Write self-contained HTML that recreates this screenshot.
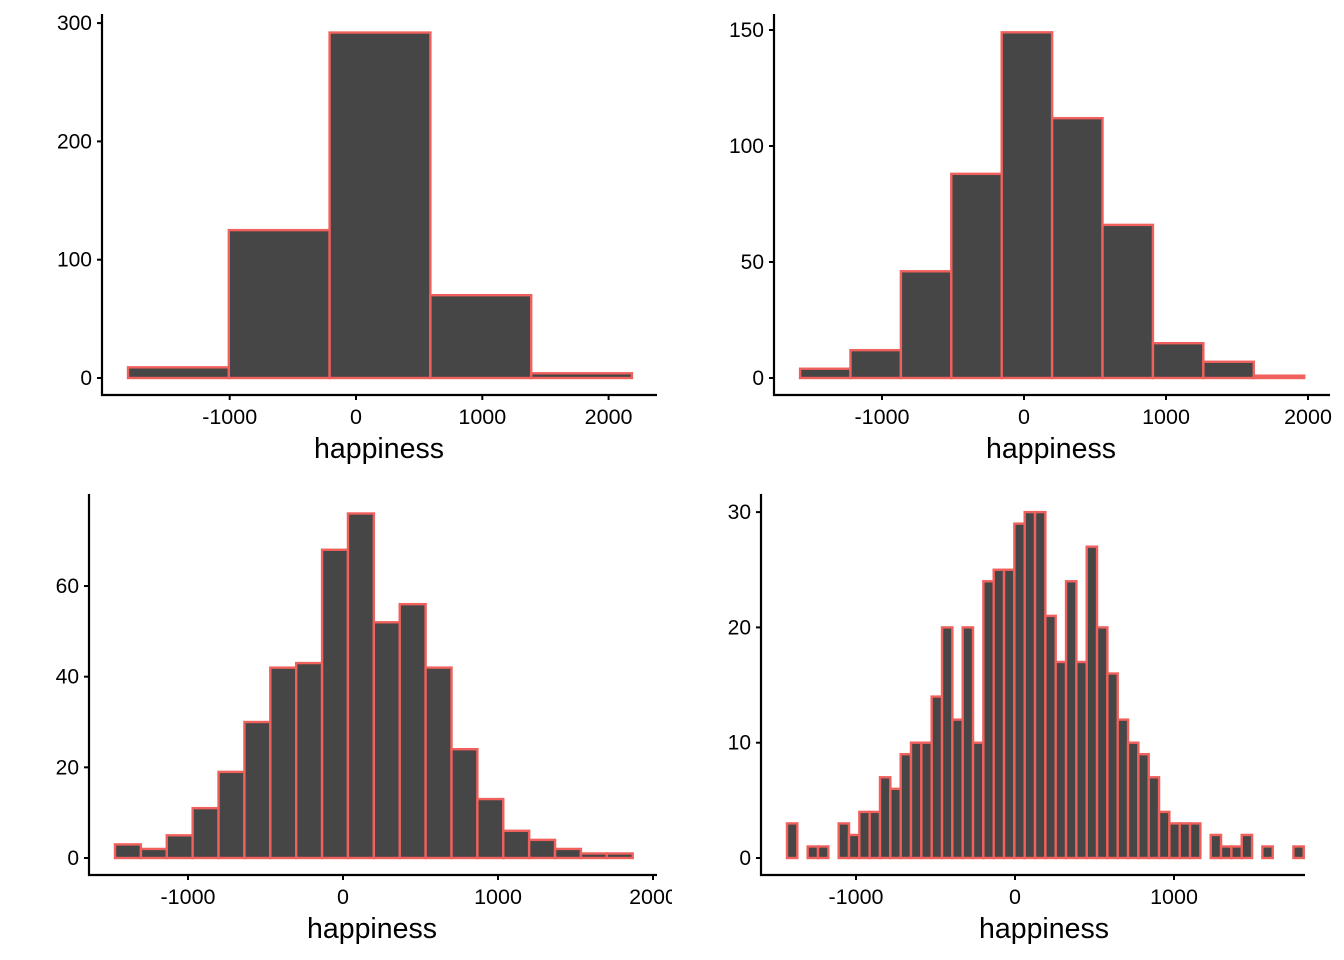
<!DOCTYPE html>
<html><head><meta charset="utf-8"><style>
body{margin:0;background:#fff}
svg{display:block;font-family:"Liberation Sans",Arial,sans-serif}
</style></head><body>
<svg id="chart" width="1344" height="960"></svg>
<script>
const tlCounts=[9,125,292,70,4];
const trCounts=[4,12,46,88,149,112,66,15,7,1];
const blCounts=[3,2,5,11,19,30,42,43,68,76,52,56,42,24,13,6,4,2,1,1];
const brCounts=[3,0,1,1,0,3,2,4,4,7,6,9,10,10,14,20,12,20,10,24,25,25,29,30,30,21,17,24,17,27,20,16,12,10,9,7,4,3,3,3,0,2,1,1,2,0,1,0,0,1];
const tlBin=[-1805,798];
const trBin=[-1577,355];
const blBin=[-1471,167];
const brBin=[-1434,65];
const tlYTicks=[0,100,200,300];
const trYTicks=[0,50,100,150];
const blYTicks=[0,20,40,60];
const brYTicks=[0,10,20,30];
const xTicksA=[-1000,0,1000,2000];
const xTicksB=[-1000,0,1000];
const xTitle="happiness";

const NS="http://www.w3.org/2000/svg";
const svg=document.getElementById('chart');
function mk(tag,attrs,parent){const e=document.createElementNS(NS,tag);for(const k in attrs)e.setAttribute(k,attrs[k]);(parent||svg).appendChild(e);return e;}

const panels=[
 {name:'top-left',counts:tlCounts,bin:tlBin,yt:tlYTicks,xt:xTicksA,ax:102,ay:395,top:14,right:657,tc:379,x0:356,kx:0.1263,y0:378,ky:1.183,clip:[0,0,672,480]},
 {name:'top-right',counts:trCounts,bin:trBin,yt:trYTicks,xt:xTicksA,ax:774,ay:395,top:14,right:1330,tc:1051,x0:1024,kx:0.142,y0:378,ky:2.32,clip:[672,0,672,480]},
 {name:'bottom-left',counts:blCounts,bin:blBin,yt:blYTicks,xt:xTicksA,ax:89,ay:875,top:494,right:657,tc:372,x0:343,kx:0.155,y0:858,ky:4.533,clip:[0,480,672,480]},
 {name:'bottom-right',counts:brCounts,bin:brBin,yt:brYTicks,xt:xTicksB,ax:761,ay:875,top:494,right:1305,tc:1044,x0:1015,kx:0.159,y0:858,ky:11.53,clip:[672,480,672,480]}
];
panels.forEach((p,pi)=>{
 const cp=mk('clipPath',{id:'c'+pi});
 mk('rect',{x:p.clip[0],y:p.clip[1],width:p.clip[2],height:p.clip[3]},cp);
 const g=mk('g',{'clip-path':'url(#c'+pi+')'});
 
 
 const xs=v=>p.x0+v*p.kx, ys=v=>p.y0-v*p.ky;
 p.counts.forEach((c,i)=>{
  const xa=xs(p.bin[0]+i*p.bin[1]), xb=xs(p.bin[0]+(i+1)*p.bin[1]);
  const r=mk('rect',{x:xa,y:ys(c),width:xb-xa,height:ys(0)-ys(c),fill:'#464646',stroke:'#F0605C','stroke-width':2.4},g);
  
  
 });
 const ya=mk('line',{x1:p.ax,y1:p.top,x2:p.ax,y2:p.ay+1,stroke:'#000','stroke-width':2.2},g);
 
 
 const xa=mk('line',{x1:p.ax-1,y1:p.ay,x2:p.right,y2:p.ay,stroke:'#000','stroke-width':2.2},g);
 
 
 p.yt.forEach(v=>{
  mk('line',{x1:p.ax-5,y1:ys(v),x2:p.ax,y2:ys(v),stroke:'#000','stroke-width':2},g);
  const t=mk('text',{x:p.ax-10,y:ys(v)+7,'text-anchor':'end','font-size':21,fill:'#000'},g);
  t.textContent=v;
  
  
 });
 p.xt.forEach(v=>{
  mk('line',{x1:xs(v),y1:p.ay,x2:xs(v),y2:p.ay+5,stroke:'#000','stroke-width':2},g);
  const t=mk('text',{x:xs(v),y:p.ay+29,'text-anchor':'middle','font-size':21.5,fill:'#000'},g);
  t.textContent=v;
  
  
 });
 const tt=mk('text',{x:p.tc,y:p.ay+63,'text-anchor':'middle','font-size':28.5,fill:'#000'},g);
 tt.textContent=xTitle;
 
 
});
</script>
</body></html>
